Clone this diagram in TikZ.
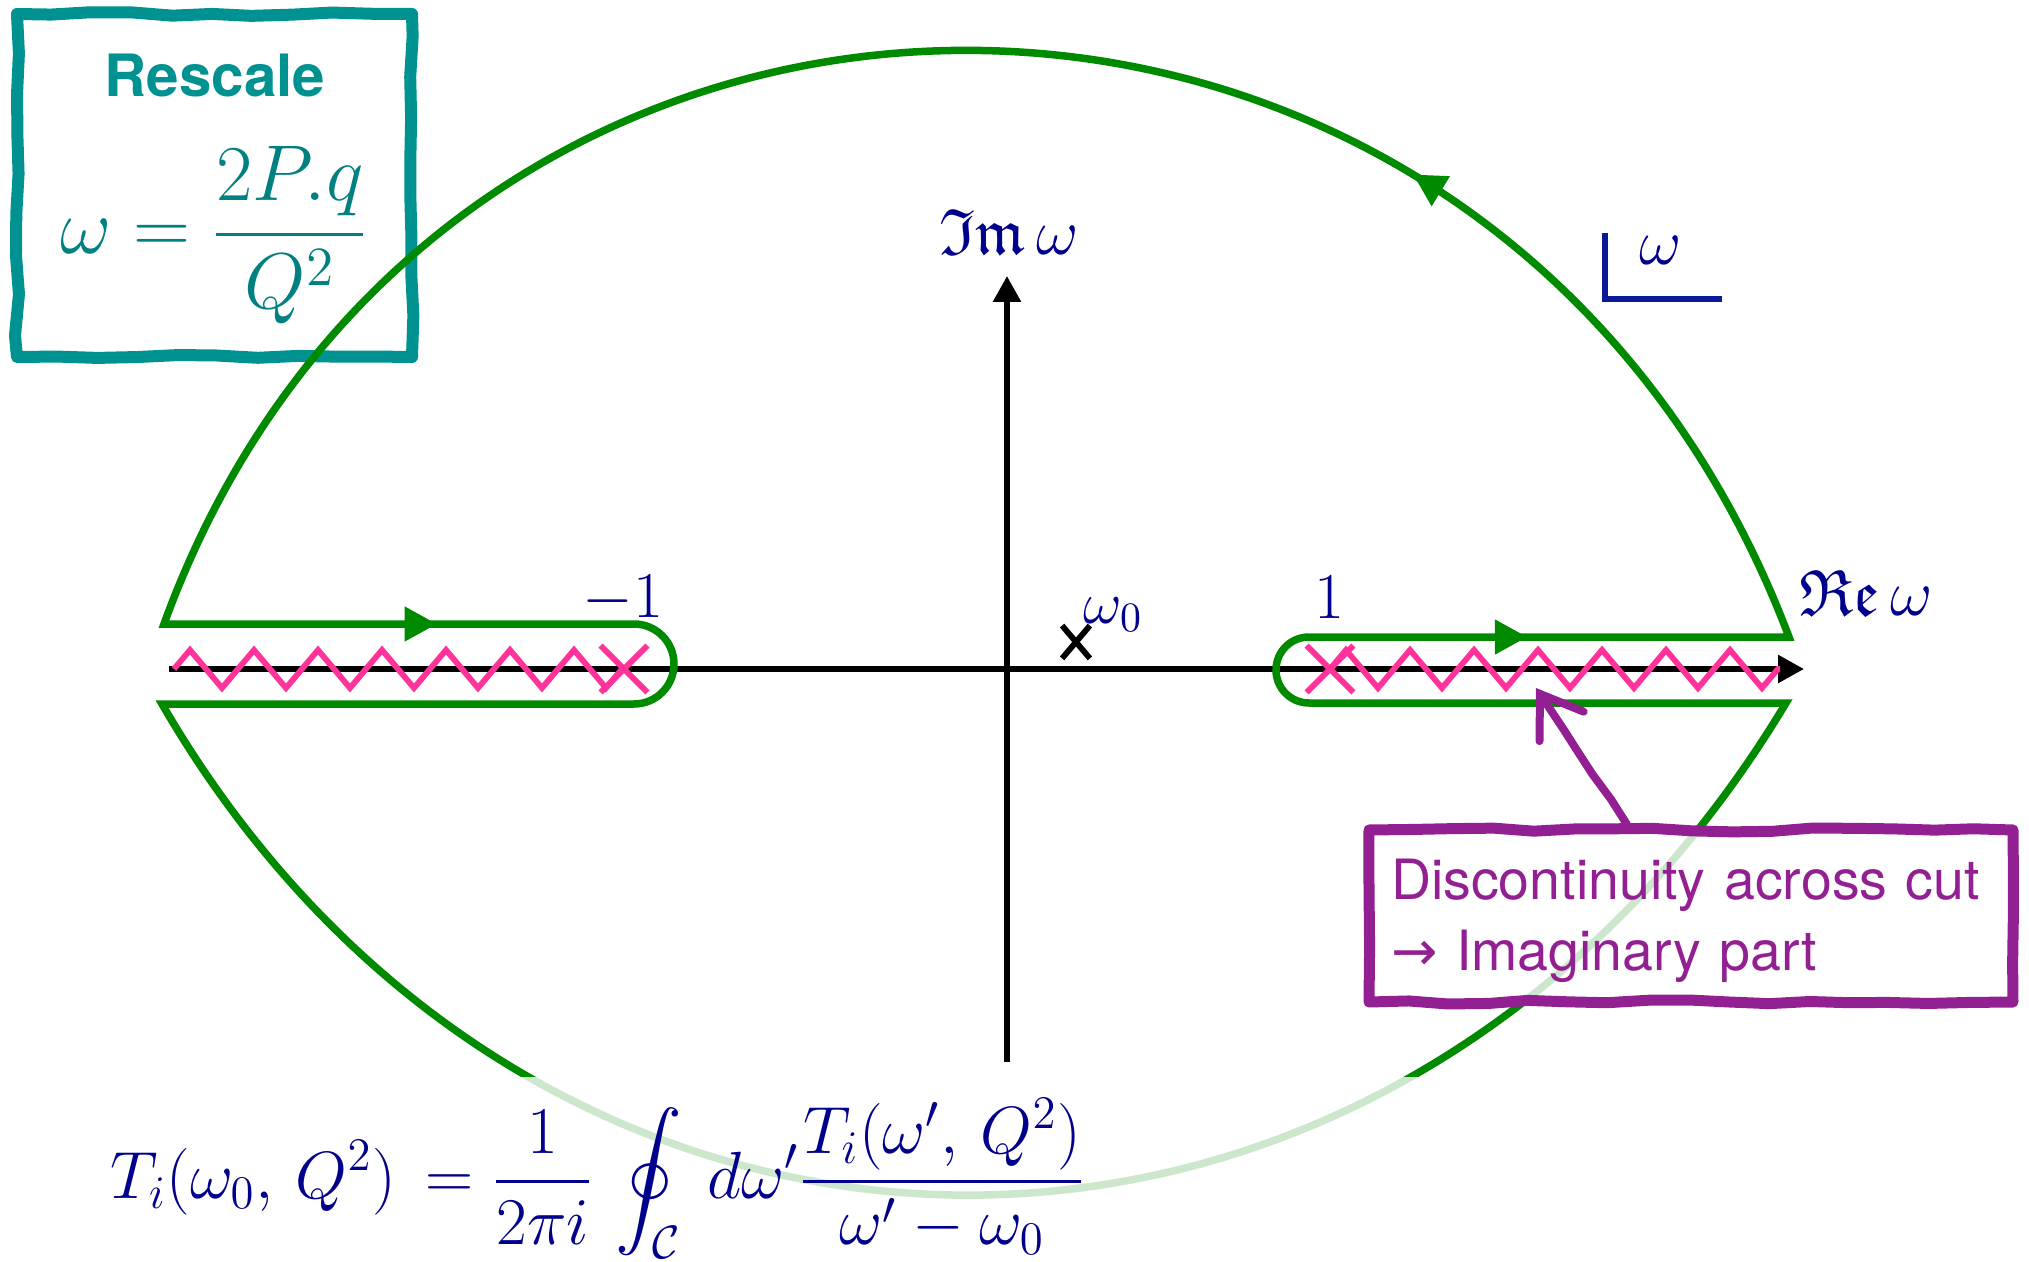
\documentclass[tikz,border=0pt]{standalone}
\usepackage{fix-cm}
\usepackage{amsmath}
\usepackage{amssymb}
\usepackage{fontspec}
\setsansfont{TeX Gyre Heros}
\newfontfamily\arrowfont{DejaVu Sans}
\usetikzlibrary{
    arrows.meta,
    positioning,
    calc,
    shapes.misc,
    decorations.pathmorphing,
    decorations.markings
}
\definecolor{cgreen}{RGB}{0,138,0}
\definecolor{cutpink}{RGB}{255,51,153}
\definecolor{labelnavy}{RGB}{0,0,140}
\definecolor{framenavy}{RGB}{10,25,150}
\definecolor{rescaleteal}{RGB}{0,145,145}
\definecolor{eqteal}{RGB}{0,128,128}
\definecolor{notepurple}{RGB}{146,32,146}
\tikzset{
    % --- Axes of the omega plane ---
    axis/.style = {
        line width=0.057cm, -{Triangle[length=0.26cm, width=0.27cm]}
    },
    % --- Branch cut (zigzag along the real axis) ---
    cut/.style = {
        draw=cutpink, line width=0.058cm,
        decorate, decoration={zigzag, segment length=0.64cm, amplitude=0.19cm}
    },
    % --- Branch point / pole marker ---
    pole/.style = {
        cross out, draw=cutpink, line width=0.058cm,
        minimum size=0.41cm, inner sep=0pt
    },
    % --- Integration contour ---
    contour/.style = {
        draw=cgreen, line width=0.075cm
    },
    % --- Arrow placed on the contour ---
    flow/.style = {
        postaction={decorate},
        decoration={markings, mark=at position #1 with
            {\arrow[cgreen]{Triangle[length=0.32cm, width=0.35cm]}}}
    },
    % --- Math labels ---
    axis label/.style = {
        text=labelnavy, inner sep=0pt,
        font=\fontsize{18.6}{22}\selectfont
    },
    small label/.style = {
        text=labelnavy, inner sep=0pt,
        font=\fontsize{17}{20}\selectfont
    },
    % --- Complex plane marker ---
    plane mark/.style = {
        draw=framenavy, line width=0.065cm
    },
    % --- Hand-drawn frames ---
    rescale box/.style = {
        draw=rescaleteal, line width=0.12cm, line join=round,
        decorate, decoration={random steps, segment length=4mm, amplitude=0.2mm},
        minimum width=3.95cm, minimum height=3.43cm, inner sep=0pt
    },
    note box/.style = {
        draw=notepurple, line width=0.11cm, line join=round,
        decorate, decoration={random steps, segment length=4mm, amplitude=0.2mm},
        fill=white, fill opacity=0.8, text opacity=1,
        text=notepurple, font=\sffamily\fontsize{15.8}{20.2}\selectfont,
        minimum width=6.44cm, minimum height=1.72cm,
        text width=6.0cm, inner xsep=0.22cm, align=left
    },
    note arrow/.style = {
        draw=notepurple, line width=0.08cm, line cap=round, line join=round,
        decorate, decoration={random steps, segment length=3mm,
            amplitude=0.1mm, post length=0.5cm},
        -{Straight Barb[length=0.39cm, width=0.53cm, line cap=round]}
    },
    % --- Dispersion formula ---
    formula/.style = {
        anchor=north west, text width=13.3cm, align=left,
        inner xsep=0.3cm, inner ysep=0.22cm,
        fill=white, fill opacity=0.8, text opacity=1,
        text=labelnavy, font=\fontsize{19}{22}\selectfont
    }
}

\begin{document}
\begin{tikzpicture}[>=Stealth, font=\sffamily]
\pgfmathsetseed{7}
\useasboundingbox (-10.07,-5.92) rectangle (10.22,6.69);

% ---------------------------------------------------------
% Rescale box (top left)
% ---------------------------------------------------------
\node[rescale box] (rescale) at (-7.925,4.835) {};
\node[anchor=base, text=rescaleteal, inner sep=0pt,
      font=\sffamily\bfseries\fontsize{16.6}{20}\selectfont] (rescaletitle) at (-7.92,5.72) {Rescale};
\node[text=eqteal, inner sep=0pt, font=\fontsize{22.5}{27}\selectfont] (rescaleeq) at (-7.93,4.34)
    {$\omega = \dfrac{2P.q}{Q^2}$};

% ---------------------------------------------------------
% Axes
% ---------------------------------------------------------
\coordinate (reW) at (-8.38,0);
\coordinate (reE) at (7.97,0);
\coordinate (imS) at (0,-3.93);
\coordinate (imN) at (0,3.93);
\draw[axis] (reW) -- (reE);
\draw[axis] (imS) -- (imN);

% ---------------------------------------------------------
% Branch cuts and branch points
% ---------------------------------------------------------
\node[pole] (poleneg) at (-3.83,0) {};
\node[pole] (polepos) at (3.23,0) {};
\coordinate (cutW) at (-8.33,0);
\coordinate (cutE) at (7.73,0);
\draw[cut] (cutW) -- (poleneg.center);
\draw[cut] (polepos.center) -- (cutE);

\node[pole, draw=black, minimum width=0.22cm, minimum height=0.27cm] (omegazero) at (0.69,0.27) {};

% ---------------------------------------------------------
% Contour C
% ---------------------------------------------------------
\coordinate (cLup) at (-8.43,0.45);
\coordinate (cLloop) at (-3.73,0.45);
\coordinate (cLlow) at (-8.45,-0.35);
\coordinate (cRlow) at (7.79,-0.34);
\coordinate (cRloop) at (3.02,-0.34);
\coordinate (cRup) at (7.82,0.32);

\draw[contour] (cLup) -- (cLloop) arc[start angle=90, end angle=-90, radius=0.40] -- (cLlow)
    .. controls (-4.65,-6.90) and (3.85,-6.90) .. (cRlow)
    -- (cRloop) arc[start angle=270, end angle=90, radius=0.33] -- (cRup)
    .. controls (4.87,8.12) and (-5.64,8.12) .. cycle;

% arrows on the contour
\path[flow=0.58] (cLup) -- (cLloop);
\path[flow=0.454] (cRloop |- cRup) -- (cRup);
\path[flow=0.285] (cRup) .. controls (4.87,8.12) and (-5.64,8.12) .. (cLup);

% ---------------------------------------------------------
% Labels
% ---------------------------------------------------------
\node[axis label, anchor=base] (imlabel) at (0.02,4.14) {$\mathfrak{Im}\,\omega$};
\node[axis label, anchor=base west] (relabel) at (7.92,0.54) {$\mathfrak{Re}\,\omega$};
\node[axis label, anchor=base] (minusone) at (-3.84,0.52) {$-1$};
\node[axis label, anchor=base] (plusone) at (3.22,0.51) {$1$};
\node[small label, anchor=base west] (omegazerolbl) at (0.76,0.46) {$\omega_0$};

% plane marker
\coordinate (planeN) at (5.98,4.36);
\coordinate (planeC) at (5.98,3.70);
\coordinate (planeE) at (7.15,3.70);
\draw[plane mark] (planeN) -- (planeC) -- (planeE);
\node[axis label, anchor=base] (planelbl) at (6.54,4.04) {$\omega$};

% ---------------------------------------------------------
% Discontinuity note
% ---------------------------------------------------------
\node[note box] (disc) at (6.84,-2.47) {\rule{0pt}{0.5cm}Discontinuity across cut\\{\arrowfont →} Imaginary part};
\coordinate (cutpt) at (5.29,-0.19);
\draw[note arrow] ([xshift=-0.64cm]disc.north) -- (cutpt);

% ---------------------------------------------------------
% Dispersion relation
% ---------------------------------------------------------
\node[formula] (cauchy) at (-9.27,-4.07)
    {$\displaystyle T_i(\omega_0,\,Q^2)\,= \frac{1}{2\pi i}\,\oint_{\mathcal{C}}\: d\omega'\frac{T_i(\omega',\,Q^2)}{\omega'-\omega_0}$};

\end{tikzpicture}
\end{document}
